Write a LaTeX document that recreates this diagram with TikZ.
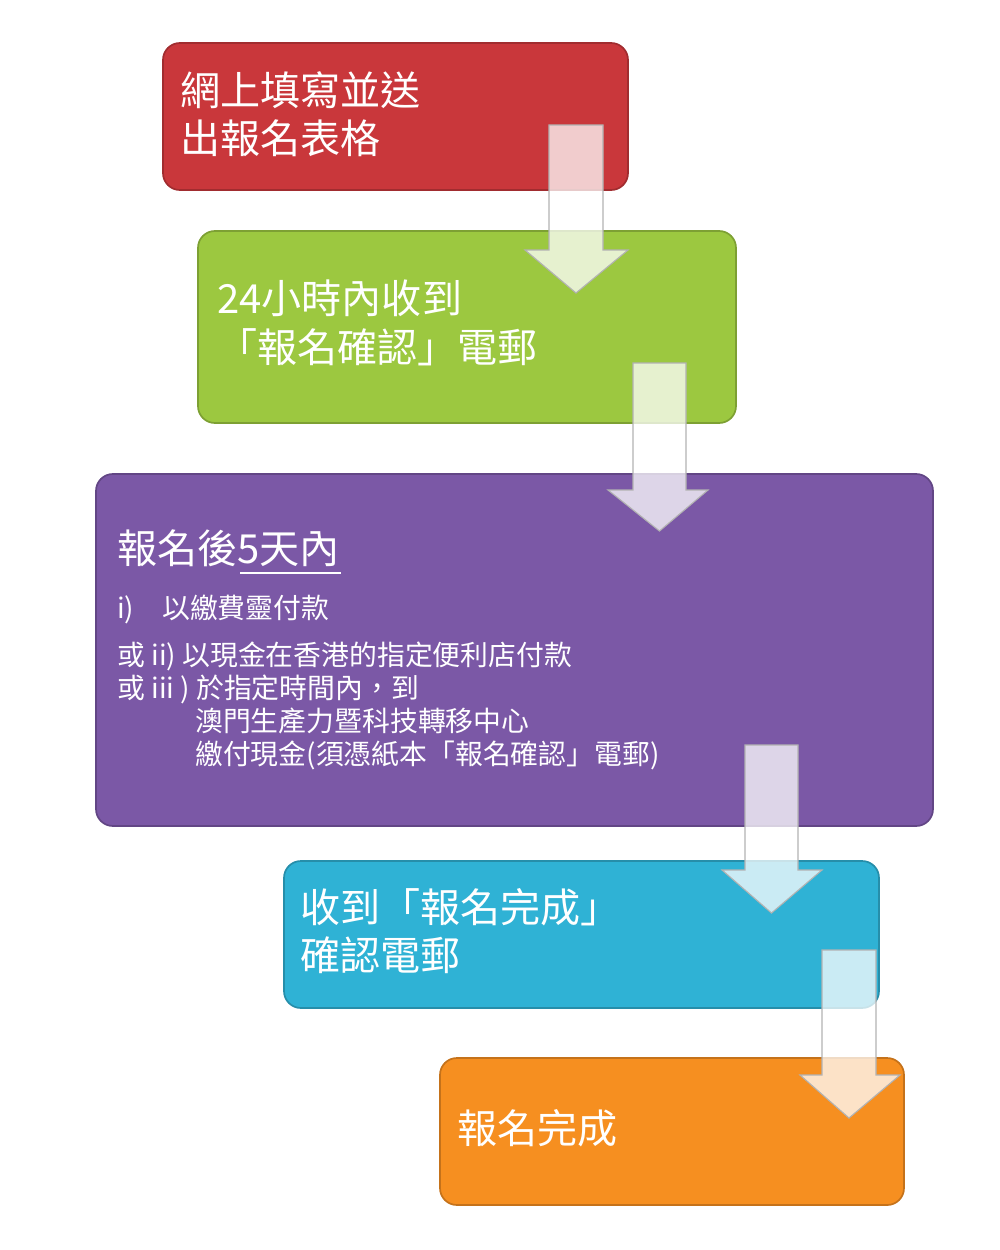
\documentclass[tikz,border=0pt]{standalone}
\usepackage{fontspec}
\setmainfont{Noto Sans CJK TC}
\usetikzlibrary{positioning}
\definecolor{boxred}{HTML}{C9373B}
\definecolor{boxgreen}{HTML}{9CC840}
\definecolor{boxpurple}{HTML}{7B58A6}
\definecolor{boxcyan}{HTML}{2FB2D5}
\definecolor{boxorange}{HTML}{F68F20}
\tikzset{
  stepbox/.style={rounded corners=12pt, line width=1.2pt},
  bigtxt/.style={anchor=base west, text=white, font=\fontsize{28.5}{30}\selectfont, inner sep=0pt},
  smalltxt/.style={anchor=base west, text=white, font=\fontsize{19.8}{22}\selectfont, inner sep=0pt},
  downarrow/.style={fill=white, fill opacity=0.75, draw=gray!60, line width=0.8pt}
}
% block arrow: shaft left x, shaft right x, head left, head right, top y, neck y, tip y
\newcommand{\blockarrow}[7]{%
  \draw[downarrow] (#1,#5) -- (#2,#5) -- (#2,#6) -- (#4,#6) -- ({(#1+#2)/2},#7)
    -- (#3,#6) -- (#1,#6) -- cycle;}
\begin{document}
\begin{tikzpicture}[x=0.025cm, y=-0.025cm]
\useasboundingbox (0,0) rectangle (1000,1250);

\draw[stepbox, fill=boxred, draw=boxred!80!black] (163,43) rectangle (628,190);
\draw[stepbox, fill=boxgreen, draw=boxgreen!80!black] (198,231) rectangle (736,423);
\draw[stepbox, fill=boxpurple, draw=boxpurple!80!black] (96,474) rectangle (933,826);
\draw[stepbox, fill=boxcyan, draw=boxcyan!80!black] (284,861) rectangle (879,1008);
\draw[stepbox, fill=boxorange, draw=boxorange!80!black] (440,1058) rectangle (904,1205);

\node[bigtxt] (r1) at (180,105) {網上填寫並送};
\node[bigtxt] (r2) at (180,153) {出報名表格};
\node[bigtxt] (g1) at (217,313) {24小時內收到};
\node[bigtxt] (g2) at (217,362) {「報名確認」電郵};
\node[bigtxt] (p0) at (117,563) {報名後5天內};
\draw[white, line width=1pt] (240,573) -- (341,573);
\node[smalltxt] (p1) at (117,618) {i)\quad 以繳費靈付款};
\node[smalltxt] (p2) at (117,665) {或 ii) 以現金在香港的指定便利店付款};
\node[smalltxt] (p3) at (117,698) {或 iii ) 於指定時間內，到};
\node[smalltxt] (p4) at (195,731) {澳門生產力暨科技轉移中心};
\node[smalltxt] (p5) at (195,764) {繳付現金(須憑紙本「報名確認」電郵)};
\node[bigtxt] (c1) at (300,922) {收到「報名完成」};
\node[bigtxt] (c2) at (300,970) {確認電郵};
\node[bigtxt] (o1) at (457,1143) {報名完成};

\blockarrow{549}{603}{525}{628}{125}{250}{293}
\blockarrow{633}{686}{608}{708}{363}{490}{531}
\blockarrow{745}{798}{722}{822}{745}{870}{913}
\blockarrow{822}{876}{800}{900}{950}{1075}{1118}
\end{tikzpicture}
\end{document}
